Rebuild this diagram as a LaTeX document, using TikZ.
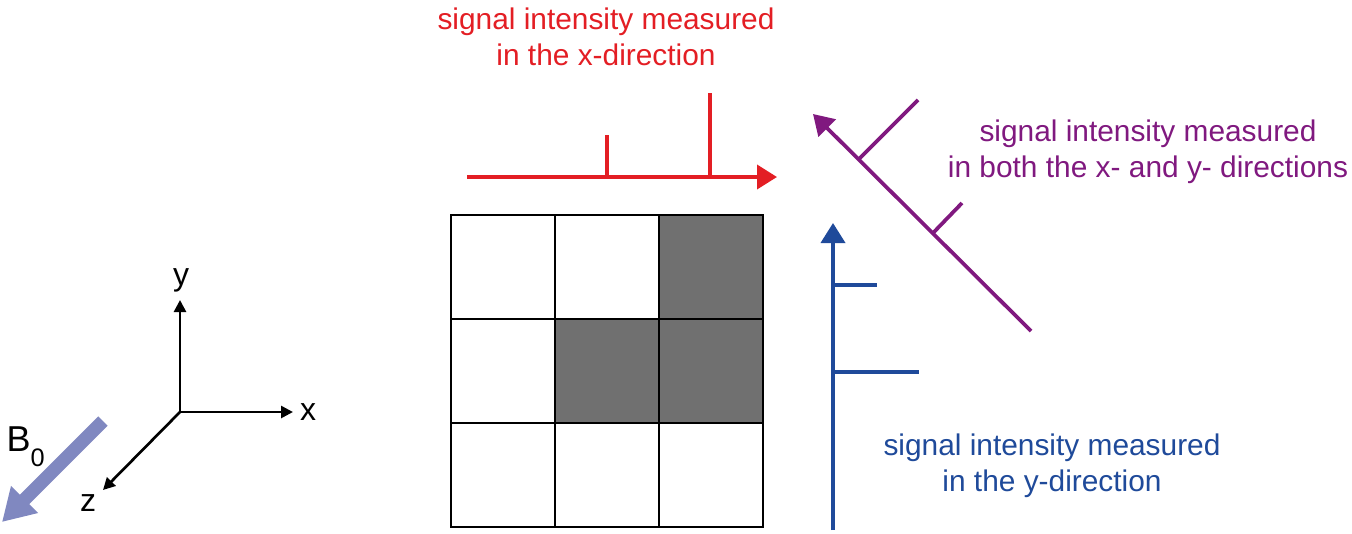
\documentclass[tikz,border=0pt]{standalone}
\usepackage{fontspec}
\setmainfont{Liberation Sans}
\usetikzlibrary{arrows.meta}

\definecolor{sigred}{RGB}{227,30,36}
\definecolor{sigblue}{RGB}{31,74,154}
\definecolor{sigpurple}{RGB}{128,25,127}
\definecolor{voxgrey}{RGB}{112,112,112}
\definecolor{bfield}{RGB}{128,136,192}

\tikzset{every picture/.style={line width=0.75pt}}
\tikzset{
  sigline/.style={line width=2.8pt,-{Triangle[length=15pt,width=18pt]}},
  sigtick/.style={line width=2.8pt},
  axisline/.style={line width=2pt,-{Triangle[length=9pt,width=9pt]}},
  voxel/.style={draw=black,line width=2.2pt},
  label/.style={inner sep=0.75pt,font=\fontsize{22.4}{27}\selectfont,align=center},
  axlabel/.style={inner sep=0pt,font=\fontsize{24}{28}\selectfont},
}

\begin{document}
\begin{tikzpicture}[x=0.75pt,y=0.75pt,yscale=-1,xscale=1]
    \useasboundingbox (0,0) rectangle (1352,533);

    %Voxel grid
    \fill [voxgrey] (659,215) rectangle (763,319);
    \fill [voxgrey] (555,319) rectangle (763,423);
    \foreach \i in {0,1,2} {
      \foreach \j in {0,1,2} {
        \draw [voxel] ({451+104*\i},{215+104*\j}) rectangle ({555+104*\i},{319+104*\j});
      }
    }

    %Coordinate axes
    \coordinate (o) at (180,412);
    \coordinate (ay) at (180,300);
    \coordinate (ax) at (293,412);
    \coordinate (az) at (103,490);
    \draw [axisline] (o) -- (ay);
    \draw [axisline] (o) -- (ax);
    \draw [axisline] (o) -- (az);
    % Text Node
    \node [axlabel] (ylab) at (181,280) {y};
    % Text Node
    \node [axlabel] (xlab) at (308,412) {x};
    % Text Node
    \node [axlabel] (zlab) at (88,503) {z};

    %B0 arrow
    \coordinate (b0s) at (103,421);
    \coordinate (b0e) at (2,522);
    \draw [bfield,line width=10pt,-{Triangle[length=24pt,width=27pt]}] (b0s) -- (b0e);
    % Text Node
    \node [inner sep=0pt,anchor=base west,font=\fontsize{27}{30}\selectfont] (b0lab) at (6,451) {B\raisebox{-0.42em}{\fontsize{19}{22}\selectfont 0}};

    %Red projection (x)
    \coordinate (rs) at (467,177);
    \coordinate (re) at (777,177);
    \coordinate (r1) at (607,177);
    \coordinate (r1t) at (607,135);
    \coordinate (r2) at (710,177);
    \coordinate (r2t) at (710,93);
    \draw [sigred,sigline] (rs) -- (re);
    \draw [sigred,sigtick] (r1) -- (r1t);
    \draw [sigred,sigtick] (r2) -- (r2t);
    % Text Node
    \node [label,sigred] (redlab) at (606,37) {signal intensity measured\\in the x-direction};

    %Blue projection (y)
    \coordinate (bs) at (833,530);
    \coordinate (be) at (833,223);
    \coordinate (b1) at (833,285);
    \coordinate (b1t) at (877,285);
    \coordinate (b2) at (833,372);
    \coordinate (b2t) at (919,372);
    \draw [sigblue,sigline] (bs) -- (be);
    \draw [sigblue,sigtick] (b1) -- (b1t);
    \draw [sigblue,sigtick] (b2) -- (b2t);
    % Text Node
    \node [label,sigblue] (bluelab) at (1052,466) {signal intensity measured\\in the y-direction};

    %Purple projection (diagonal)
    \coordinate (ps) at (1031,331);
    \coordinate (pe) at (813,114);
    \coordinate (p1) at (859,159);
    \coordinate (p1t) at (918,100);
    \coordinate (p2) at (933,233);
    \coordinate (p2t) at (962,203);
    \draw [sigpurple,sigline] (ps) -- (pe);
    \draw [sigpurple,sigtick] (p1) -- (p1t);
    \draw [sigpurple,sigtick] (p2) -- (p2t);
    % Text Node
    \node [label,sigpurple] (purplab) at (1148,152) {signal intensity measured\\in both the x- and y- directions};

\end{tikzpicture}
\end{document}
